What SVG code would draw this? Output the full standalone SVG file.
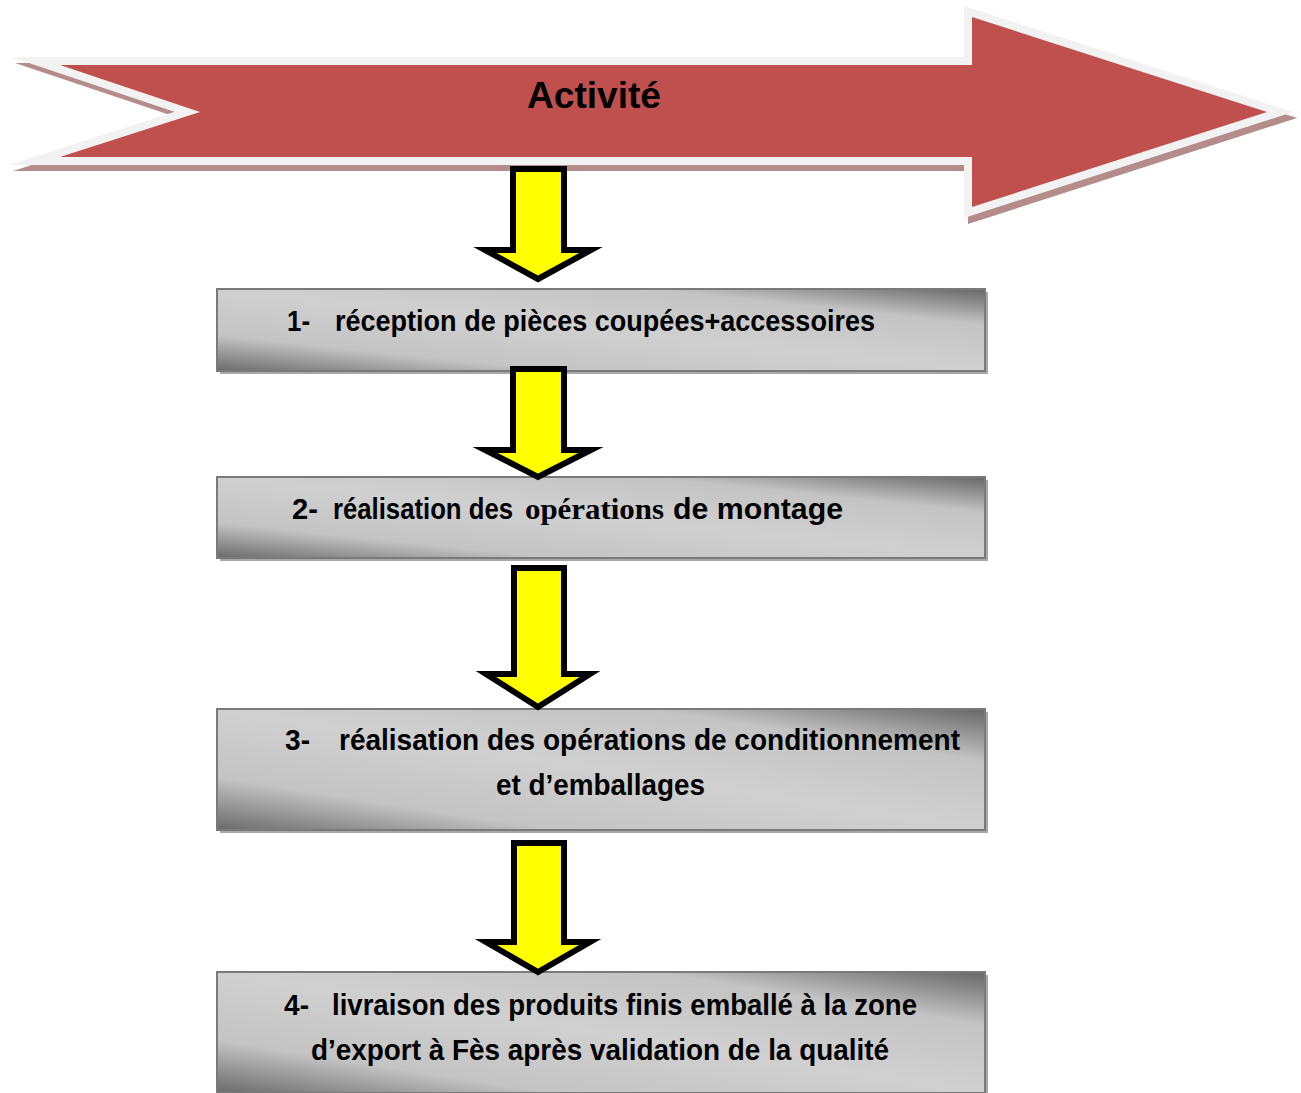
<svg xmlns="http://www.w3.org/2000/svg" xmlns:xlink="http://www.w3.org/1999/xlink" width="1301" height="1093" viewBox="0 0 1301 1093">
  <defs>
    <polygon id="bannerShape" points="60,65 972,65 972,17 1267,112 972,207 972,157 60,157 200,112"/>
    <linearGradient id="silver" x1="0" y1="1" x2="1" y2="0">
      <stop offset="0" stop-color="#6a6a6a"/>
      <stop offset="0.22" stop-color="#c4c4c4"/>
      <stop offset="0.5" stop-color="#d0d0d0"/>
      <stop offset="0.78" stop-color="#c4c4c4"/>
      <stop offset="1" stop-color="#666666"/>
    </linearGradient>
    <style>
      .box { fill: url(#silver); stroke: #7a7a7a; stroke-width: 2; }
      .shadow { fill: #a8a8a8; }
      .lbl { font-family: "Liberation Sans", Arial, sans-serif; font-weight: bold; font-size: 29px; fill: #000; }
      .serif { font-family: "Liberation Serif", "Times New Roman", serif; font-weight: bold; }
      .down { fill: #ffff00; stroke: #000; stroke-width: 6; stroke-linejoin: miter; stroke-miterlimit: 10; }
    </style>
  </defs>

  <!-- Header arrow: "Activité" -->
  <g id="activite">
    <use xlink:href="#bannerShape" transform="translate(4,6)" fill="#b48c8c" stroke="#b48c8c" stroke-width="16" stroke-miterlimit="10"/>
    <use xlink:href="#bannerShape" fill="#f2f2f2" stroke="#f2f2f2" stroke-width="16" stroke-miterlimit="10"/>
    <use xlink:href="#bannerShape" fill="#c0504d"/>
    <text x="594" y="108" text-anchor="middle" font-family="'Liberation Sans', Arial, sans-serif" font-weight="bold" font-size="37" textLength="134" lengthAdjust="spacingAndGlyphs">Activité</text>
  </g>

  <!-- Step 1 -->
  <g id="step1">
    <rect class="shadow" x="220" y="292" width="768" height="82"/>
    <rect class="box" x="217" y="289" width="768" height="82"/>
    <text class="lbl" y="331"><tspan x="287" textLength="23" lengthAdjust="spacingAndGlyphs">1-</tspan><tspan x="335" textLength="540" lengthAdjust="spacingAndGlyphs">réception de pièces coupées+accessoires</tspan></text>
  </g>

  <!-- Step 2 -->
  <g id="step2">
    <rect class="shadow" x="220" y="480" width="768" height="81"/>
    <rect class="box" x="217" y="477" width="768" height="81"/>
    <text class="lbl" y="519"><tspan x="292" textLength="26" lengthAdjust="spacingAndGlyphs">2-</tspan><tspan x="333" textLength="180" lengthAdjust="spacingAndGlyphs">réalisation des</tspan><tspan class="serif" x="525" textLength="139" lengthAdjust="spacingAndGlyphs">opérations</tspan><tspan x="673" textLength="170" lengthAdjust="spacingAndGlyphs">de montage</tspan></text>
  </g>

  <!-- Step 3 -->
  <g id="step3">
    <rect class="shadow" x="220" y="712" width="768" height="121"/>
    <rect class="box" x="217" y="709" width="768" height="121"/>
    <text class="lbl" y="750"><tspan x="285" textLength="25" lengthAdjust="spacingAndGlyphs">3-</tspan><tspan x="339" textLength="621" lengthAdjust="spacingAndGlyphs">réalisation des opérations de conditionnement</tspan></text>
    <text class="lbl" x="496" y="795" textLength="209" lengthAdjust="spacingAndGlyphs">et d’emballages</text>
  </g>

  <!-- Step 4 -->
  <g id="step4">
    <rect class="shadow" x="220" y="975" width="768" height="121"/>
    <rect class="box" x="217" y="972" width="768" height="121"/>
    <text class="lbl" y="1015"><tspan x="284" textLength="25" lengthAdjust="spacingAndGlyphs">4-</tspan><tspan x="332" textLength="585" lengthAdjust="spacingAndGlyphs">livraison des produits finis emballé à la zone</tspan></text>
    <text class="lbl" x="311" y="1060" textLength="578" lengthAdjust="spacingAndGlyphs">d’export à Fès après validation de la qualité</text>
  </g>

  <!-- Flow arrows between stages -->
  <g id="connectors">
    <polygon class="down" points="513,169 564,169 564,250 591,250 538,279 485,250 513,250"/>
    <polygon class="down" points="513,369 564,369 564,450 591,450 538,477 485,450 513,450"/>
    <polygon class="down" points="514,568 564,568 564,674 590,674 538,707 486,674 514,674"/>
    <polygon class="down" points="514,843 564,843 564,942 590,942 538,972 486,942 514,942"/>
  </g>
</svg>
